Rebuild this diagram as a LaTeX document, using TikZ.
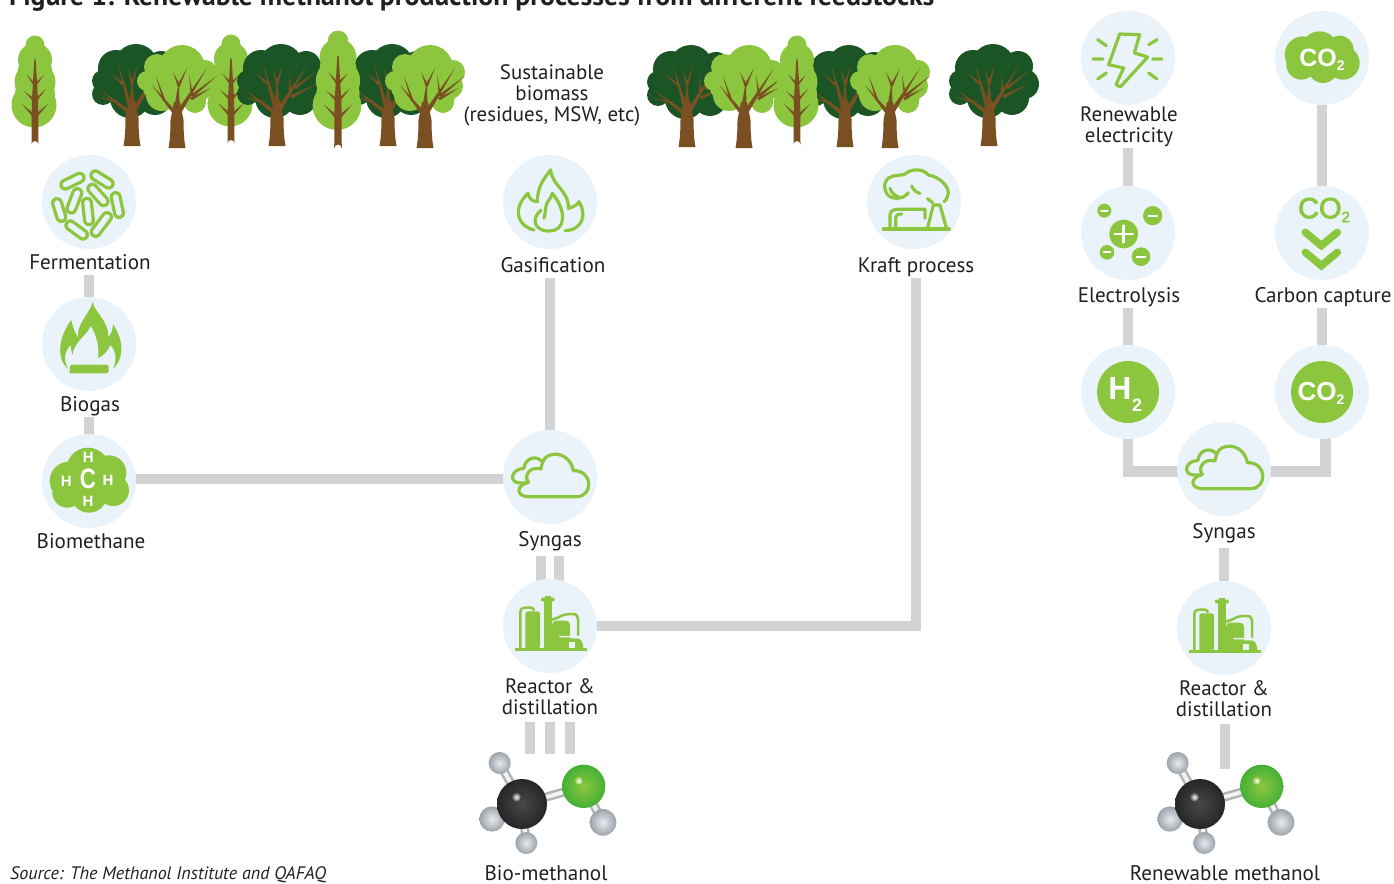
\documentclass[tikz,border=0pt]{standalone}
\usepackage{fontspec}
\setmainfont{PT Sans}
\newfontfamily\lsans{Liberation Sans}
\newfontfamily\lsansm[FakeBold=3]{Liberation Sans}
\usetikzlibrary{calc,backgrounds}
\definecolor{halo}{HTML}{EBF3FA}
\definecolor{lime}{HTML}{8CC63F}
\definecolor{forest}{HTML}{1B5526}
\definecolor{bark}{HTML}{7A5023}
\definecolor{linkgrey}{HTML}{D1D3D4}
\definecolor{ink}{HTML}{231F20}
\definecolor{oxy}{HTML}{45B035}
\definecolor{hlight}{HTML}{E8EBEE}
\definecolor{hdark}{HTML}{9CA3AA}
\newcommand{\tbr}[5]{\fill[bark] ($(#1,#2)!#5pt!90:(#3,#4)$) -- ($(#1,#2)!#5pt!-90:(#3,#4)$) -- (#3,#4) -- cycle;}
\newcommand{\blobs}[2]{\fill[#1] \foreach \a/\b/\r in {#2} {(\a,\b) circle[radius=\r]};}
\newcommand{\capsule}[4]{\draw[lime,line width=12pt,line cap=round] (#1,#2) -- (#3,#4);\draw[halo,line width=5.4pt,line cap=round] (#1,#2) -- (#3,#4);}
\newcommand{\sball}[5]{\shade[inner color=#4,outer color=#5] (#1,#2) circle[radius=#3];}
\tikzset{
  stage/.style={circle,fill=halo,minimum size=94pt,inner sep=0pt},
  lab/.style={anchor=base,inner sep=1pt,text height=15pt,text depth=5pt,font=\fontsize{21.1pt}{22pt}\selectfont,text=ink},
  mlab/.style={anchor=center,inner sep=1pt,align=center,font=\fontsize{20.9pt}{21pt}\selectfont,text=ink},
  conn/.style={draw=linkgrey,line width=10.5pt,line cap=butt,line join=miter},
  oline/.style={draw=lime,line width=3.2pt,line cap=round,line join=round},
  roundtrunk/.pic={
    \fill[bark] (-8.5,0) .. controls (-7,-8) and (-6.5,-18) .. (-6.5,-28) -- (-3,-46) -- (3,-46) -- (6.5,-28) .. controls (6.5,-18) and (7,-8) .. (8.5,0) -- cycle;
  },
  lighttree/.pic={
    \blobs{lime}{5/-80/23,-20/-81/13,-15/-72/15,-30/-67/10,-15/-53/16,28/-76/12,25/-62/13,18/-46/11,0/-65/25,14/-58/18,-22/-60/12}
    \pic {roundtrunk};
    \tbr{-3}{-36}{-25}{-63}{2}\tbr{-13}{-48}{-21}{-72}{1.3}
    \tbr{0}{-42}{2}{-68}{2.4}\tbr{2}{-62}{-4}{-76}{1.3}\tbr{1.5}{-62}{10}{-80}{1.4}
    \tbr{2}{-36}{30}{-80}{2.4}\tbr{15}{-52}{12}{-73}{1.2}\tbr{15}{-52}{40}{-72}{1.6}\tbr{14}{-49}{34}{-60}{1.6}
  },
  darktree/.pic={
    \blobs{forest}{4/-80/22,-16/-78/18,-29/-65/11,-29/-52/11,-2/-48/20,23/-48/17,35/-62/15,29/-80/15,0/-65/26,-20/-60/16,18/-65/20}
    \pic {roundtrunk};
    \tbr{-3}{-34}{-32}{-56}{2.2}\tbr{-14}{-44}{-34}{-49}{1.1}
    \tbr{-2}{-40}{-14}{-82}{2.2}\tbr{-9}{-62}{-22}{-73}{1.3}
    \tbr{0}{-42}{0}{-68}{2.3}\tbr{0}{-62}{-4}{-78}{1.2}\tbr{0}{-62}{6}{-82}{1.3}
    \tbr{2}{-36}{31}{-82}{2.4}\tbr{13}{-52}{13}{-75}{1.2}\tbr{18}{-58}{40}{-75}{1.4}\tbr{14}{-49}{39}{-62}{1.6}
  },
  poplar/.pic={
    \blobs{lime}{0/-102/9.5,0/-87/17,0/-76/17,0/-65/20.5,0/-53/20,-1/-42/22.5}
    \fill[bark] (-3.5,-2.5) arc[start angle=180,end angle=360,radius=3.5] -- (3.2,-45) -- (0.6,-88) -- (-0.6,-88) -- (-3.2,-45) -- cycle;
    \tbr{0}{-62}{-9}{-73}{1.3}\tbr{0}{-62}{9}{-72}{1.3}
    \tbr{0}{-46}{-11}{-56}{1.5}\tbr{0}{-46}{11}{-58}{1.5}
    \tbr{0}{-30}{-13}{-43}{1.7}\tbr{0}{-30}{13}{-43}{1.7}
  },
  fermicon/.pic={\begin{scope}[scale=1/3,shift={(-268,-605)}]
    \capsule{197}{553}{240}{532}\capsule{287}{525}{327}{550}\capsule{215}{625}{233}{578}
    \capsule{278}{565}{312}{603}\capsule{172}{608}{185}{650}\capsule{348}{590}{358}{638}
    \capsule{262}{607}{268}{660}\capsule{212}{675}{250}{703}\capsule{288}{695}{322}{650}
  \end{scope}},
  biogasicon/.pic={\begin{scope}[scale=1/3,shift={(-268,-160)}]
    \fill[lime] (280,32) .. controls (278,60) and (330,90) .. (325,140) .. controls (335,130) and (340,115) .. (340,100)
      .. controls (360,130) and (385,190) .. (340,235) .. controls (355,200) and (345,175) .. (332,163)
      .. controls (325,180) and (312,195) .. (295,202) .. controls (300,170) and (290,130) .. (273,105)
      .. controls (262,135) and (225,150) .. (218,192) .. controls (215,180) and (213,170) .. (213,163)
      .. controls (195,180) and (190,205) .. (205,235) .. controls (170,205) and (175,140) .. (215,88)
      .. controls (218,105) and (225,125) .. (235,140) .. controls (230,100) and (270,70) .. (280,32) -- cycle;
    \fill[lime,rounded corners=2.5pt] (210,248) -- (210,222) -- (327,222) -- (327,248) [sharp corners] -- cycle;
  \end{scope}},
  methaneicon/.pic={\begin{scope}[scale=1/3,shift={(-265,-570)}]
    \blobs{lime}{205/570/58,262/535/65,325/545/52,338/598/47,200/605/45,265/610/55,262/570/70}
    \node[text=white,font=\fontsize{15pt}{15pt}\lsans\bfseries,inner sep=0] (hn) at (263,500) {H};
    \node[text=white,font=\fontsize{15pt}{15pt}\lsans\bfseries,inner sep=0] (hw) at (197,570) {H};
    \node[text=white,font=\fontsize{28pt}{28pt}\lsans\bfseries,inner sep=0,xscale=.8] (cc) at (262,565) {C};
    \node[text=white,font=\fontsize{15pt}{15pt}\lsans\bfseries,inner sep=0] (he) at (322,568) {H};
    \node[text=white,font=\fontsize{15pt}{15pt}\lsans\bfseries,inner sep=0] (hs) at (262,631) {H};
  \end{scope}},
  flameicon/.pic={\begin{scope}[scale=1/3,shift={(-183,-156)}]
    \draw[oline] (135,240) .. controls (90,230) and (65,180) .. (117,130) .. controls (120,145) and (130,155) .. (145,155)
      .. controls (145,110) and (165,85) .. (185,60) .. controls (190,110) and (240,120) .. (238,175)
      .. controls (255,170) and (265,165) .. (270,155) .. controls (295,195) and (280,240) .. (228,242);
    \draw[oline] (157,180) .. controls (125,205) and (135,243) .. (180,243) .. controls (230,243) and (235,185) .. (190,130)
      .. controls (185,150) and (170,155) .. (170,175) .. controls (170,190) and (165,200) .. (165,205);
  \end{scope}},
  krafticon/.pic={\begin{scope}[scale=1/3,shift={(-222,-156)}]
    \draw[oline] (130,237) -- (328,237);
    \draw[oline] (150,237) -- (150,195) .. controls (150,180) and (165,178) .. (175,178) -- (255,178) -- (255,205);
    \draw[oline] (167,237) -- (167,205) .. controls (167,195) and (175,192) .. (185,192);
    \draw[oline] (262,237) -- (280,165) -- (300,165) -- (320,237);
    \draw[oline] (205,128) .. controls (190,150) and (150,150) .. (140,130) .. controls (125,105) and (140,80) .. (160,78)
      .. controls (180,75) and (190,75) .. (195,72) .. controls (215,55) and (250,55) .. (265,75)
      .. controls (300,80) and (335,115) .. (322,140) .. controls (320,150) and (315,152) .. (312,155);
    \draw[oline] (150,115) .. controls (155,130) and (165,138) .. (175,140);
    \draw[oline] (215,108) .. controls (220,120) and (230,128) .. (240,130);
    \draw[oline] (262,146) -- (278,158);
  \end{scope}},
  cloudicon/.pic={\begin{scope}[scale=1/3,shift={(-460,-504)}]
    \draw[oline] (395,563) -- (540,563) .. controls (590,563) and (590,483) .. (530,485)
      .. controls (525,450) and (490,425) .. (455,440) .. controls (440,447) and (435,465) .. (433,480)
      .. controls (400,470) and (380,500) .. (395,520) .. controls (355,530) and (360,563) .. (395,563);
    \draw[oline] (433,455) .. controls (420,440) and (385,445) .. (382,478) .. controls (340,480) and (335,525) .. (375,522) -- (390,522);
  \end{scope}},
  reactoricon/.pic={\begin{scope}[scale=1/3,shift={(-240,-226)}]
    \fill[lime] (135,292) rectangle (352,300);
    \fill[lime,rounded corners=2.5pt] (166,294) -- (166,182) -- (210,182) -- (210,294) [sharp corners] -- cycle;
    \draw[lime,line width=2.5pt] (151,294) -- (151,185) .. controls (151,172) and (160,171) .. (170,171) -- (182,171) .. controls (188,171) and (192,176) .. (192,180);
    \fill[lime] (222,294) rectangle (246,150);
    \fill[lime,rounded corners=1pt] (213,141) rectangle (254,152);
    \fill[lime] (226,136) rectangle (244,143);
    \fill[lime,rounded corners=4pt] (246,294) -- (246,210) -- (300,210) -- (300,294) [sharp corners] -- cycle;
    \draw[lime,line width=2.5pt] (238,294) -- (238,215) .. controls (238,205) and (262,205) .. (275,195) .. controls (285,190) and (300,190) .. (310,190) .. controls (320,190) and (324,198) .. (324,205) -- (324,255);
    \fill[lime] (272,263) -- (320,263) .. controls (332,263) and (340,272) .. (340,294) -- (272,294) -- cycle;
    \draw[halo,line width=1.6pt] (268,258) -- (320,258) .. controls (335,258) and (340,268) .. (340,278);
    \fill[halo] (298,273) rectangle (315,292);
  \end{scope}},
  moleculeicon/.pic={\begin{scope}[scale=1/3,shift={(-157,-763)}]
    \foreach \tx/\ty in {90/640,67/808,170/880,342/710} {
      \draw[line width=9pt,draw=black!30] (157,763) -- (\tx,\ty);
      \draw[line width=4pt,draw=black!5] (157,763) -- (\tx,\ty);}
    \draw[line width=9pt,draw=black!30] (342,710) -- (400,818);
    \draw[line width=4pt,draw=black!5] (342,710) -- (400,818);
    \sball{90}{640}{33}{hlight}{hdark}
    \sball{67}{808}{38}{hlight}{hdark}
    \sball{170}{880}{33}{hlight}{hdark}
    \sball{400}{818}{40}{hlight}{hdark}
    \sball{157}{763}{75}{black!72}{black!85}
    \shade[inner color=white,outer color=black!74] (140,742) circle[radius=14];
    \sball{342}{710}{65}{lime}{oxy}
    \shade[inner color=white,outer color=lime] (327,693) circle[radius=12];
  \end{scope}},
}
\begin{document}
\begin{tikzpicture}[x=1pt,y=-1pt]
\useasboundingbox (0,0) rectangle (1394,883);
% title and notes
\node[anchor=base west,inner sep=0,font=\fontsize{27.7pt}{29pt}\selectfont\bfseries,text=ink] (title) at (9,6) {Figure 1: Renewable methanol production processes from different feedstocks};
\node[anchor=base west,inner sep=0,font=\fontsize{18.05pt}{20pt}\selectfont\itshape,text=ink] (source) at (10,879) {Source: The Methanol Institute and QAFAQ};
\node[mlab] (feed) at (552,95) {Sustainable\\biomass\\(residues, MSW, etc)};
% trees
\pic at (35,147) {poplar};
\pic at (132,146) {darktree};
\pic at (231,146) {poplar};
\pic at (177,148) {lighttree};
\pic at (277,146) {darktree};
\pic at (388,146) {darktree};
\pic[scale=1.08] at (338,151) {poplar};
\pic at (425,148) {lighttree};
\pic at (687,147) {darktree};
\pic at (744,148) {lighttree};
\pic at (845,147) {darktree};
\pic at (890,148) {lighttree};
\pic at (797,147) {poplar};
\pic at (989,146) {darktree};
% stage circles
\node[stage] (ferm) at (89,202) {};
\node[stage] (biogas) at (89,344) {};
\node[stage] (biom) at (89,481) {};
\node[stage] (gas) at (550,202) {};
\node[stage] (kraft) at (914,202) {};
\node[stage] (syn) at (550,477) {};
\node[stage] (reac) at (550,626) {};
\node[stage] (elec) at (1128,58) {};
\node[stage] (lysis) at (1128,233) {};
\node[stage] (hyd) at (1128,392) {};
\node[stage] (co2a) at (1322,58) {};
\node[stage] (co2b) at (1322,233) {};
\node[stage] (co2c) at (1322,392) {};
\node[stage] (synr) at (1224,469) {};
\node[stage] (reacr) at (1224,628) {};
% labels
\node[lab] (lferm) at (90,269) {Fermentation};
\node[lab] (lbiogas) at (90,411) {Biogas};
\node[lab] (lbiom) at (91,548) {Biomethane};
\node[lab] (lgas) at (553,272) {Gasification};
\node[lab] (lkraft) at (916,272) {Kraft process};
\node[lab] (lsyn) at (550,546) {Syngas};
\node[mlab] (lreac) at (550,697) {Reactor \&\\distillation};
\node[mlab] (lelec) at (1129,126.5) {Renewable\\electricity};
\node[lab] (llysis) at (1129,302) {Electrolysis};
\node[lab] (lcap) at (1323,302) {Carbon capture};
\node[lab] (lsynr) at (1224,538) {Syngas};
\node[mlab] (lreacr) at (1224,699) {Reactor \&\\distillation};
\node[lab,text depth=1pt] (lmeth) at (546,880) {Bio-methanol};
\node[lab,text depth=1pt] (lmethr) at (1225,880) {Renewable methanol};
% anchors of the molecules and free connector ends
\coordinate (mola) at (522,804);
\coordinate (molb) at (1200,804);
\coordinate (ma) at (530,754);
\coordinate (mb) at (550,754);
\coordinate (mc) at (570,754);
\coordinate (md) at (1225,769);
% connectors
\begin{pgfonlayer}{background}
\draw[conn] (lferm.south -| ferm) -- (biogas.center);
\draw[conn] (lbiogas.south -| biogas) -- (biom.center);
\draw[conn] ([yshift=2pt]biom.center) -- ([yshift=-2pt]syn.center);
\draw[conn] (lgas.south -| gas) -- (syn.center);
\draw[conn] (lkraft.south) |- (reac.center);
\draw[conn] ([xshift=-9pt,yshift=-4pt]lsyn.south) -- ([xshift=-9pt]reac.center);
\draw[conn] ([xshift=9pt,yshift=-4pt]lsyn.south) -- ([xshift=9pt]reac.center);
\draw[conn] ([yshift=-6pt]ma |- lreac.south) -- (ma);
\draw[conn] ([yshift=-6pt]mb |- lreac.south) -- (mb);
\draw[conn] ([yshift=-6pt]mc |- lreac.south) -- (mc);
\draw[conn] (lelec.south -| elec) -- (lysis.center);
\draw[conn] (co2a.center) -- (co2b.center);
\draw[conn] (llysis.south -| lysis) -- (hyd.center);
\draw[conn] (lcap.south -| co2b) -- (co2c.center);
\draw[conn] (hyd.center) |- ([yshift=-2.5pt]synr.center);
\draw[conn] ([xshift=3.5pt]co2c.center) |- ([yshift=-2.5pt]synr.center);
\draw[conn] ([yshift=-4pt]lsynr.south) -- (reacr.center);
\draw[conn] ([yshift=-6pt]md |- lreacr.south) -- (md);
\end{pgfonlayer}
% icons
\pic at (ferm) {fermicon};
\pic at (biogas) {biogasicon};
\pic at (biom) {methaneicon};
\pic at (gas) {flameicon};
\pic at (kraft) {krafticon};
\pic at (syn) {cloudicon};
\pic at (synr) {cloudicon};
\pic at (reac) {reactoricon};
\pic at (reacr) {reactoricon};
\pic at (mola) {moleculeicon};
\pic at (molb) {moleculeicon};
% renewable electricity icon
\begin{scope}[shift={(elec)},scale=1/3,shift={(-203,-175)}]
  \draw[oline] (178,103) -- (238,105) -- (222,160) -- (262,172) -- (180,262) -- (167,255) -- (190,205) -- (145,195) -- cycle;
  \draw[oline] (112,120) -- (138,138) (290,120) -- (265,135) (98,178) -- (128,178) (277,178) -- (305,178) (112,238) -- (138,220) (265,220) -- (290,238);
\end{scope}
% electrolysis icon
\begin{scope}[shift={(lysis)},scale=1/3,shift={(-203,-697)}]
  \fill[lime] (190,700) circle[radius=43] (132,630) circle[radius=21] (277,645) circle[radius=29] (140,755) circle[radius=22] (242,768) circle[radius=28];
  \draw[white,line width=2.8pt,line cap=round] (163,700) -- (217,700) (190,675) -- (190,725);
  \draw[white,line width=1.8pt,line cap=round] (122,630) -- (142,630) (130,755) -- (150,755);
  \draw[white,line width=2.2pt,line cap=round] (264,645) -- (290,645) (229,768) -- (255,768);
\end{scope}
% CO2 cloud
\begin{scope}[shift={(co2a)},scale=1/3,shift={(-787,-175)}]
  \blobs{lime}{730/165/55,780/150/55,840/150/42,850/190/50,790/205/45,725/195/45,785/175/60}
\end{scope}
\node[text=white,font=\fontsize{25pt}{25pt}\lsans\bfseries,inner sep=0] (co2atext) at (1322,60) {CO\raisebox{-4pt}{\fontsize{14pt}{14pt}\selectfont 2}};
% carbon capture
\node[text=lime,font=\fontsize{29pt}{29pt}\lsansm,inner sep=0] (co2btext) at (1324,210) {CO\raisebox{-4pt}{\fontsize{15pt}{15pt}\selectfont 2}};
\begin{scope}[shift={(co2b)},scale=1/3,shift={(-787,-697)}]
  \draw[lime,line width=7.5pt,line cap=round,line join=miter] (737,695) -- (785,735) -- (833,695);
  \draw[lime,line width=7.5pt,line cap=round,line join=miter] (737,755) -- (785,795) -- (833,755);
\end{scope}
% H2 and CO2 discs
\fill[lime] (hyd) circle[radius=31];
\node[text=white,font=\fontsize{32pt}{32pt}\lsans\bfseries,inner sep=0] (h) at (1120,388) {H};
\node[text=white,font=\fontsize{18pt}{18pt}\lsans\bfseries,inner sep=0] (hsub) at (1137,405) {2};
\fill[lime] (co2c) circle[radius=31];
\node[text=white,font=\fontsize{26pt}{26pt}\lsans\bfseries,inner sep=0] (co2ctext) at (1321,393) {CO\raisebox{-4pt}{\fontsize{14pt}{14pt}\selectfont 2}};
\end{tikzpicture}
\end{document}
